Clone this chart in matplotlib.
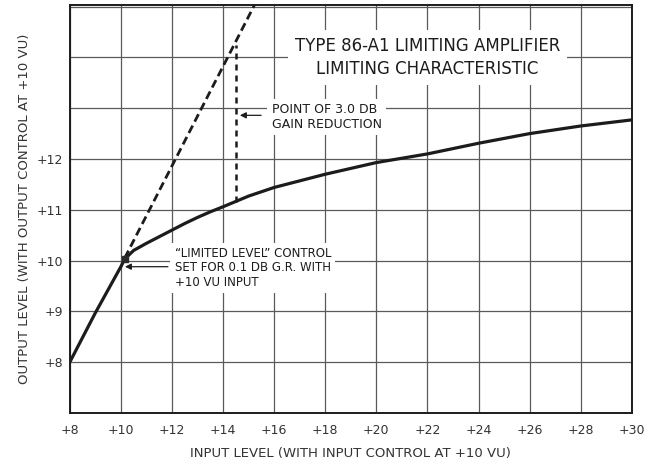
import matplotlib
matplotlib.use("Agg")
import matplotlib.pyplot as plt

# valores
entrada = [8, 9, 10, 10.15, 10.5, 11, 11.5, 12, 12.5, 13, 13.5, 14, 15, 16, 18, 20, 22, 24, 26, 28, 30]
saida = [8, 8.97, 9.88, 10.03, 10.2, 10.34, 10.47, 10.6, 10.73, 10.85, 10.96, 11.06, 11.27, 11.44, 11.7, 11.93, 12.1, 12.31, 12.5, 12.65, 12.77]

# linha sem limitacao (tracejada)
ideal_x = [10.15, 12.14, 14.18, 15.35]
ideal_y = [10.05, 12.0, 14.0, 15.15]

# ponto de 3 dB de reducao de ganho
ponto_x = [14.5, 14.5]
ponto_y = [11.15, 14.25]

xticks = list(range(8, 31, 2))
xlabels = ["+%d" % v for v in xticks]
yticks = list(range(7, 16))
ylabels = ["", "+8", "+9", "+10", "+11", "+12", "", "", ""]

cor = "#1c1c1c"
grade = "#5a5a5a"

fig = plt.figure(figsize=(6.52, 4.63), dpi=100)
ax = fig.add_axes([0.107, 0.108, 0.862, 0.881])

ax.set_xlim(8, 30)
ax.set_ylim(7, 15.03)
ax.set_xticks(xticks)
ax.set_xticklabels(xlabels)
ax.set_yticks(yticks)
ax.set_yticklabels(ylabels)
ax.tick_params(length=0, labelsize=9, colors="#333333")
ax.tick_params(axis="x", pad=8)
ax.tick_params(axis="y", pad=5)
ax.grid(True, color=grade, lw=0.9)
for s in ax.spines.values():
    s.set_linewidth(1.4)
    s.set_color(cor)

ax.plot(entrada, saida, color=cor, lw=2.3, solid_capstyle="round", zorder=4)
ax.plot(ideal_x, ideal_y, color=cor, lw=2.0, dashes=(3.0, 1.6), zorder=4)
ax.plot(ponto_x, ponto_y, color=cor, lw=1.8, dashes=(2.4, 2.0), zorder=4)
ax.plot([10.15], [10.03], marker="s", ms=5, color="#2a2a2a", zorder=5)

caixa = dict(facecolor="white", edgecolor="none", pad=3)

ax.text(22.0, 14.0, "TYPE 86-A1 LIMITING AMPLIFIER\nLIMITING CHARACTERISTIC",
        ha="center", va="center", fontsize=12, color=cor, linespacing=1.35,
        bbox=dict(facecolor="white", edgecolor="none", pad=5), zorder=3)

ax.text(15.9, 12.83, "POINT OF 3.0 DB\nGAIN REDUCTION", ha="left", va="center",
        fontsize=9, color=cor, linespacing=1.15, bbox=caixa, zorder=3)
ax.annotate("", xy=(14.55, 12.86), xytext=(15.6, 12.86),
            arrowprops=dict(arrowstyle="-|>", lw=0.9, color=cor, mutation_scale=9),
            zorder=4)

ax.text(12.1, 9.86, "\u201cLIMITED LEVEL\u201d CONTROL\nSET FOR 0.1 DB G.R. WITH\n+10 VU INPUT",
        ha="left", va="center", fontsize=8.5, color=cor, linespacing=1.15,
        bbox=caixa, zorder=3)
ax.annotate("", xy=(10.05, 9.88), xytext=(11.95, 9.88),
            arrowprops=dict(arrowstyle="-|>", lw=0.9, color=cor, mutation_scale=9),
            zorder=4)

ax.set_xlabel("INPUT LEVEL (WITH INPUT CONTROL AT +10 VU)", fontsize=9.5,
              color="#333333", labelpad=7)
ax.set_ylabel("OUTPUT LEVEL (WITH OUTPUT CONTROL AT +10 VU)", fontsize=9.5,
              color="#333333", labelpad=4)

fig.savefig("out.png", dpi=100, facecolor="white")
